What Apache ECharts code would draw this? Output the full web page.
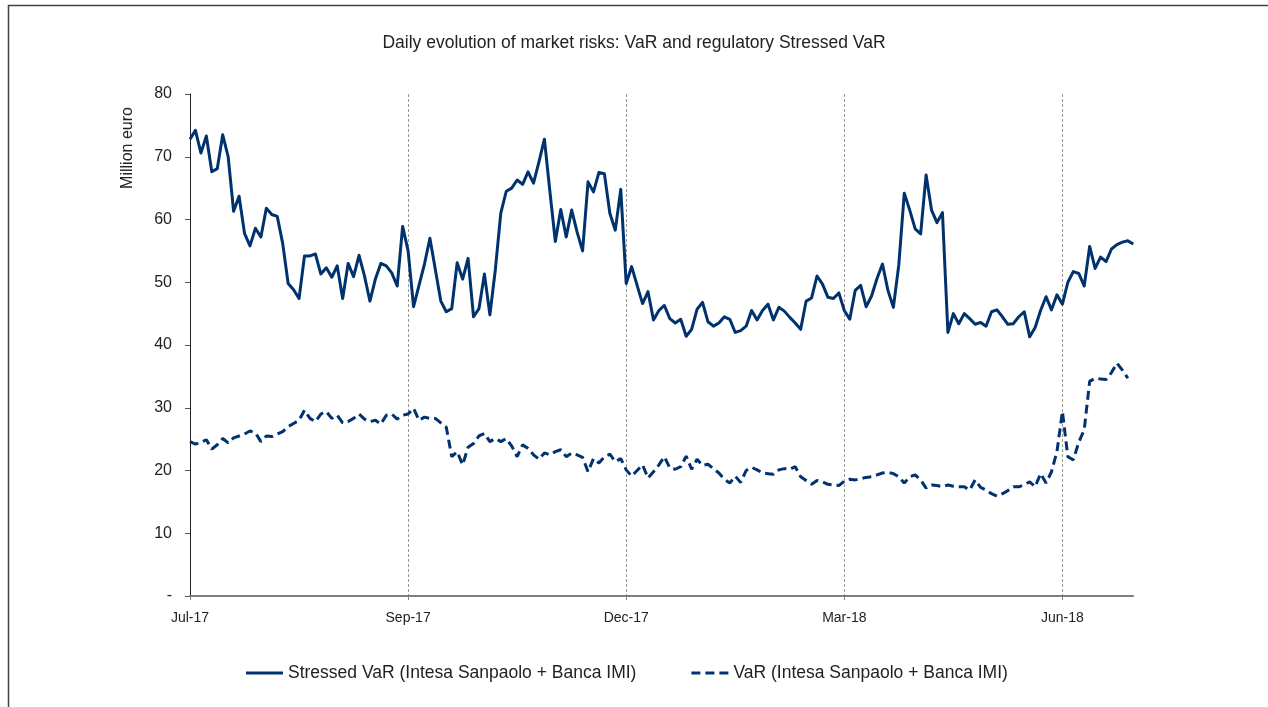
<!DOCTYPE html>
<html>
<head>
<meta charset="utf-8">
<script src="https://cdn.jsdelivr.net/npm/echarts@6/dist/echarts.min.js"></script>
<style>
html,body{margin:0;padding:0;background:#fff;}
#chart{width:1268px;height:707px;}
</style>
</head>
<body>
<div id="chart"></div>
<script>
const chartTitle = 'Daily evolution of market risks: VaR and regulatory Stressed VaR';
const yAxisTitle = 'Million euro';
const tickLabels = ['Jul-17', 'Sep-17', 'Dec-17', 'Mar-18', 'Jun-18'];
const tickStep = 40;
const seriesNames = ['Stressed VaR (Intesa Sanpaolo + Banca IMI)', 'VaR (Intesa Sanpaolo + Banca IMI)'];

const stressedVaR = [
  72.8, 74.2, 70.6, 73.3, 67.6, 68.1, 73.5, 70.0, 61.3, 63.7,
  57.8, 55.8, 58.6, 57.2, 61.8, 60.8, 60.5, 56.2, 49.8, 48.8,
  47.4, 54.2, 54.2, 54.5, 51.3, 52.3, 50.8, 52.6, 47.4, 53.0,
  50.9, 54.3, 51.0, 47.0, 50.5, 53.0, 52.6, 51.5, 49.4, 58.9,
  55.0, 46.1, 49.5, 52.9, 57.0, 52.0, 47.0, 45.3, 45.8, 53.1,
  50.5, 53.8, 44.5, 45.8, 51.3, 44.8, 52.0, 61.0, 64.5, 65.0,
  66.3, 65.6, 67.6, 65.8, 69.2, 72.8, 64.5, 56.5, 61.6, 57.2,
  61.5, 58.0, 55.0, 66.0, 64.4, 67.5, 67.3, 61.0, 58.3, 64.8,
  49.8, 52.5, 49.5, 46.6, 48.5, 44.0, 45.5, 46.3, 44.2, 43.5,
  44.1, 41.4, 42.5, 45.7, 46.8, 43.7, 43.0, 43.5, 44.5, 44.1,
  42.0, 42.3, 43.0, 45.5, 44.0, 45.5, 46.5, 44.0, 46.0, 45.4,
  44.4, 43.5, 42.5, 47.0, 47.5, 51.0, 49.7, 47.6, 47.4, 48.3,
  45.5, 44.1, 48.7, 49.5, 46.1, 47.8, 50.6, 52.9, 48.7, 46.0,
  52.8, 64.2, 61.5, 58.5, 57.7, 67.1, 61.5, 59.5, 61.1, 42.0,
  45.0, 43.4, 45.0, 44.2, 43.3, 43.6, 43.0, 45.3, 45.6, 44.5,
  43.3, 43.4, 44.5, 45.3, 41.3, 42.8, 45.5, 47.7, 45.6, 48.0,
  46.5, 50.0, 51.7, 51.4, 49.4, 55.7, 52.2, 54.0, 53.3, 55.3,
  56.0, 56.4, 56.6, 56.1
];

const valueAtRisk = [
  24.6, 24.2, 24.5, 24.9, 23.4, 24.1, 25.1, 24.4, 25.2, 25.5,
  25.8, 26.3, 26.0, 24.6, 25.5, 25.4, 25.8, 26.2, 27.0, 27.5,
  28.0, 29.6, 28.3, 27.8, 29.0, 29.4, 28.3, 28.8, 27.6, 27.8,
  28.3, 29.0, 28.2, 27.8, 28.0, 27.4, 28.8, 29.0, 28.2, 28.8,
  29.0, 29.9, 28.0, 28.5, 28.3, 28.3, 27.6, 26.9, 22.2, 23.0,
  20.9, 23.7, 24.3, 25.5, 25.9, 24.6, 25.1, 24.6, 25.1, 23.9,
  22.2, 24.1, 23.5, 22.5, 21.8, 22.8, 22.5, 23.0, 23.3, 22.2,
  22.8, 22.5, 22.1, 19.8, 21.9, 21.2, 22.2, 22.6, 21.4, 21.9,
  20.1, 19.1, 20.0, 20.9, 18.8, 19.8, 20.9, 22.2, 20.4, 20.2,
  20.6, 22.3, 20.2, 21.8, 20.8, 21.0, 20.3, 19.6, 18.6, 18.0,
  19.1, 18.1, 20.0, 20.5, 20.1, 19.6, 19.5, 19.4, 20.1, 20.3,
  20.2, 20.6, 19.0, 18.4, 17.8, 18.4, 18.2, 17.8, 17.7, 17.6,
  18.3, 18.6, 18.5, 18.7, 18.9, 19.0, 19.3, 19.6, 19.7, 19.5,
  19.0, 18.0, 19.0, 19.3, 18.5, 17.2, 17.7, 17.6, 17.4, 17.7,
  17.5, 17.4, 17.4, 16.9, 18.5, 17.3, 16.9, 16.3, 15.9, 16.3,
  16.8, 17.4, 17.4, 17.7, 18.2, 17.4, 19.5, 18.0, 19.8, 23.0,
  29.4, 22.2, 21.7, 24.5, 26.5, 34.2, 34.7, 34.6, 34.5, 35.6,
  37.1, 36.0, 34.7
];

const categories = stressedVaR.map((_, i) => 'D' + i);
const lineColor = '#00326E';
const fontFamily = '"Liberation Sans", Arial, sans-serif';

const chart = echarts.init(document.getElementById('chart'));
chart.setOption({
  animation: false,
  backgroundColor: '#fff',
  title: {
    text: chartTitle,
    left: 'center',
    top: 29,
    textStyle: { fontSize: 17.5, fontWeight: 'normal', color: '#222', fontFamily: fontFamily }
  },
  graphic: [
    { type: 'rect', shape: { x: 8.5, y: 5.5, width: 1400, height: 900 }, style: { fill: 'none', stroke: '#444', lineWidth: 1.5 }, silent: true },
    { type: 'text', x: 128, y: 148, rotation: Math.PI / 2,
      style: { text: yAxisTitle, fontSize: 16, fill: '#222', fontFamily: fontFamily, textAlign: 'center', textVerticalAlign: 'middle' } }
  ],
  legend: {
    left: 241,
    top: 659,
    itemWidth: 37,
    itemHeight: 3,
    itemGap: 55,
    textStyle: { fontSize: 17.5, color: '#222', fontFamily: fontFamily },
    data: [
      { name: seriesNames[0], icon: 'rect' },
      { name: seriesNames[1], icon: 'path://M0,0h9v3h-9z M14,0h9v3h-9z M28,0h9v3h-9z' }
    ]
  },
  grid: { left: 190, top: 94, width: 173 * 5.4525, height: 502, containLabel: false },
  xAxis: {
    type: 'category',
    boundaryGap: false,
    data: categories,
    axisLine: { show: true, lineStyle: { color: '#555', width: 1.5 } },
    axisTick: { show: true, interval: tickStep - 1, length: 4, lineStyle: { color: '#888' } },
    axisLabel: {
      interval: tickStep - 1,
      margin: 15,
      fontSize: 14,
      color: '#222',
      fontFamily: fontFamily,
      formatter: (v, i) => (i % tickStep === 0 ? (tickLabels[i / tickStep] || '') : '')
    },
    splitLine: { show: true, interval: tickStep - 1, lineStyle: { type: [3, 2], color: '#999', width: 1 } }
  },
  yAxis: {
    type: 'value',
    min: 0,
    max: 80,
    interval: 10,
    axisLine: { show: true, lineStyle: { color: '#222', width: 1 } },
    axisTick: { show: true, length: 5, lineStyle: { color: '#555' } },
    axisLabel: {
      margin: 18,
      fontSize: 16,
      color: '#222',
      fontFamily: fontFamily,
      formatter: v => (v === 0 ? '-' : String(v))
    },
    splitLine: { show: false }
  },
  series: [
    {
      name: seriesNames[0],
      type: 'line',
      data: stressedVaR,
      symbol: 'none',
      lineStyle: { color: lineColor, width: 3, join: 'round' },
      itemStyle: { color: lineColor }
    },
    {
      name: seriesNames[1],
      type: 'line',
      data: valueAtRisk,
      symbol: 'none',
      lineStyle: { color: lineColor, width: 3, type: [9, 5] },
      itemStyle: { color: lineColor }
    }
  ]
});
</script>
</body>
</html>
